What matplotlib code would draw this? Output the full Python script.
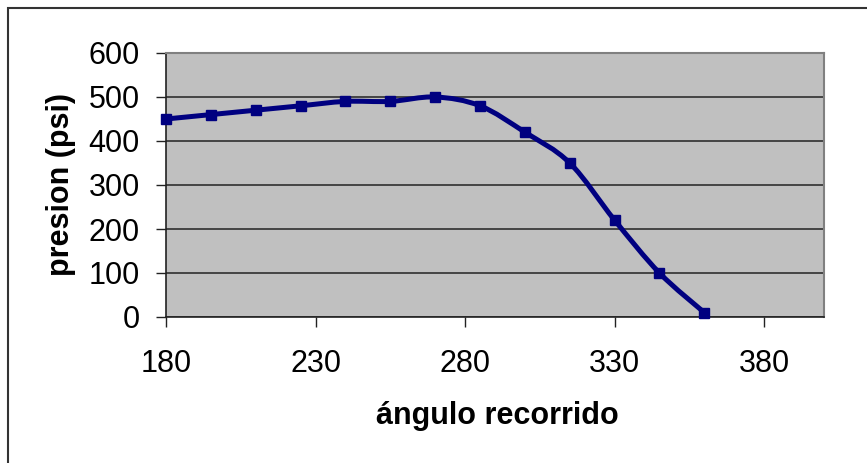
import matplotlib
matplotlib.use('Agg')
import matplotlib.pyplot as plt
import numpy as np
from matplotlib.path import Path
from matplotlib.patches import PathPatch, Rectangle

# angulo recorrido (grados) vs presion (psi)
angulo = [180, 195, 210, 225, 240, 255, 270, 285, 300, 315, 330, 345, 360]
presion = [450, 460, 470, 480, 490, 490, 500, 480, 420, 350, 220, 100, 10]

x_ticks = [180, 230, 280, 330, 380]
y_ticks = [0, 100, 200, 300, 400, 500, 600]

plt.rcParams['font.family'] = ['Liberation Sans', 'DejaVu Sans']

fig = plt.figure(figsize=(8.67, 4.63), dpi=100)
ax = fig.add_axes([166 / 867, 1 - 317 / 463, 658 / 867, 264 / 463])
ax.set_facecolor('#C0C0C0')

# smoothed line (like Excel "smoothed line"): catmull-rom as bezier segments
pts = np.column_stack([angulo, presion]).astype(float)
verts = [pts[0]]
codes = [Path.MOVETO]
n = len(pts)
for i in range(n - 1):
    p0 = pts[max(i - 1, 0)]
    p1 = pts[i]
    p2 = pts[i + 1]
    p3 = pts[min(i + 2, n - 1)]
    c1 = p1 + (p2 - p0) / 6.0
    c2 = p2 - (p3 - p1) / 6.0
    verts += [c1, c2, p2]
    codes += [Path.CURVE4] * 3
curve = PathPatch(Path(verts, codes), facecolor='none', edgecolor='#000080',
                  lw=3.6, zorder=3, clip_on=False, capstyle='round',
                  joinstyle='round')
ax.add_patch(curve)
ax.plot(angulo, presion, ls='none', marker='s', ms=7.5, color='#000080',
        zorder=4, clip_on=False)

ax.set_xlim(180, 400)
ax.set_ylim(0, 600)
ax.set_xticks(x_ticks)
ax.set_yticks(y_ticks)
ax.grid(axis='y', color='#3a3a3a', lw=1.3)
ax.set_axisbelow(True)

for s in ['top', 'right']:
    ax.spines[s].set_color('#808080')
    ax.spines[s].set_linewidth(1.5)
for s in ['left', 'bottom']:
    ax.spines[s].set_color('#222222')
    ax.spines[s].set_linewidth(1.2)

ax.tick_params(axis='both', direction='out', length=7, width=1,
               color='#222222', labelsize=22)
ax.tick_params(axis='y', pad=12)
ax.tick_params(axis='x', pad=16)

fig.text(497 / 867, 1 - 416 / 463, 'ángulo recorrido', ha='center',
         va='center', fontsize=22, fontweight='bold')
fig.text(61 / 867, 1 - 184 / 463, 'presion (psi)', ha='center', va='center',
         rotation=90, fontsize=22, fontweight='bold')

# outer chart border
fig.patches.append(Rectangle((8 / 867, -0.2), 1.2, 1.2 - 8 / 463,
                             transform=fig.transFigure, fill=False,
                             edgecolor='#333333', lw=1.5))

fig.savefig('out.png', dpi=100)
